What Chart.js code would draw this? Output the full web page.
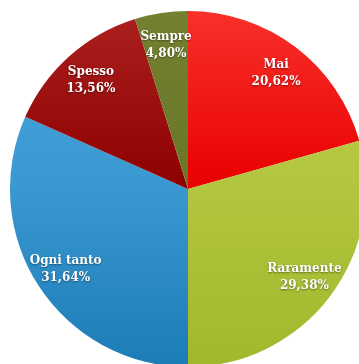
<!DOCTYPE html>
<html>
<head>
<meta charset="utf-8">
<script src="https://cdn.jsdelivr.net/npm/chart.js@4"></script>
<style>
    html, body { margin: 0; padding: 0; background: #fff; overflow: hidden; width: 359px; height: 364px; }
    #wrap { position: absolute; left: 10px; top: 11px; width: 356px; height: 356px; }
</style>
</head>
<body>
<div id="wrap"><canvas id="torta"></canvas></div>
<script>
const categorie = ['Mai', 'Raramente', 'Ogni tanto', 'Spesso', 'Sempre'];
const percentuali = [20.62, 29.38, 31.64, 13.56, 4.80];

// colori alto / centro / basso per ogni fetta
const sfumature = [
    ['#f8302a', '#e80000', '#d80000'],
    ['#c0d050', '#b2c53e', '#a2b82c'],
    ['#4aa5dc', '#3a98d0', '#1c7cb6'],
    ['#ac2020', '#8e0000', '#800000'],
    ['#748030', '#6a7628', '#606c20']
];

function colore(context) {
    const chart = context.chart;
    const area = chart.chartArea;
    const c = sfumature[context.dataIndex];
    if (!area) return c[1];
    const g = chart.ctx.createLinearGradient(0, area.top, 0, area.bottom);
    g.addColorStop(0, c[0]);
    g.addColorStop(0.5, c[1]);
    g.addColorStop(1, c[2]);
    return g;
}

// etichette dentro le fette
const etichette = {
    id: 'etichette',
    afterDatasetsDraw(chart) {
        const ctx = chart.ctx;
        const meta = chart.getDatasetMeta(0);
        ctx.save();
        ctx.font = 'bold 12px "DejaVu Serif"';
        ctx.fillStyle = '#fff';
        ctx.textAlign = 'center';
        ctx.textBaseline = 'middle';
        ctx.shadowColor = 'rgba(0,0,0,0.45)';
        ctx.shadowBlur = 2;
        ctx.shadowOffsetY = 1;
        meta.data.forEach((arc, i) => {
            const p = arc.getProps(['x', 'y', 'startAngle', 'endAngle', 'outerRadius'], true);
            const a = (p.startAngle + p.endAngle) / 2;
            const r = p.outerRadius * 0.82;
            const x = p.x + Math.cos(a) * r;
            const y = p.y + Math.sin(a) * r;
            ctx.fillText(categorie[i], x, y - 8);
            ctx.fillText(percentuali[i].toFixed(2).replace('.', ',') + '%', x, y + 9);
        });
        ctx.restore();
    }
};

new Chart(document.getElementById('torta'), {
    type: 'pie',
    data: {
        labels: categorie,
        datasets: [{
            data: percentuali,
            backgroundColor: colore,
            borderWidth: 0
        }]
    },
    options: {
        responsive: true,
        maintainAspectRatio: false,
        animation: false,
        layout: { padding: 0 },
        plugins: {
            legend: { display: false },
            tooltip: { enabled: false }
        }
    },
    plugins: [etichette]
});
</script>
</body>
</html>
